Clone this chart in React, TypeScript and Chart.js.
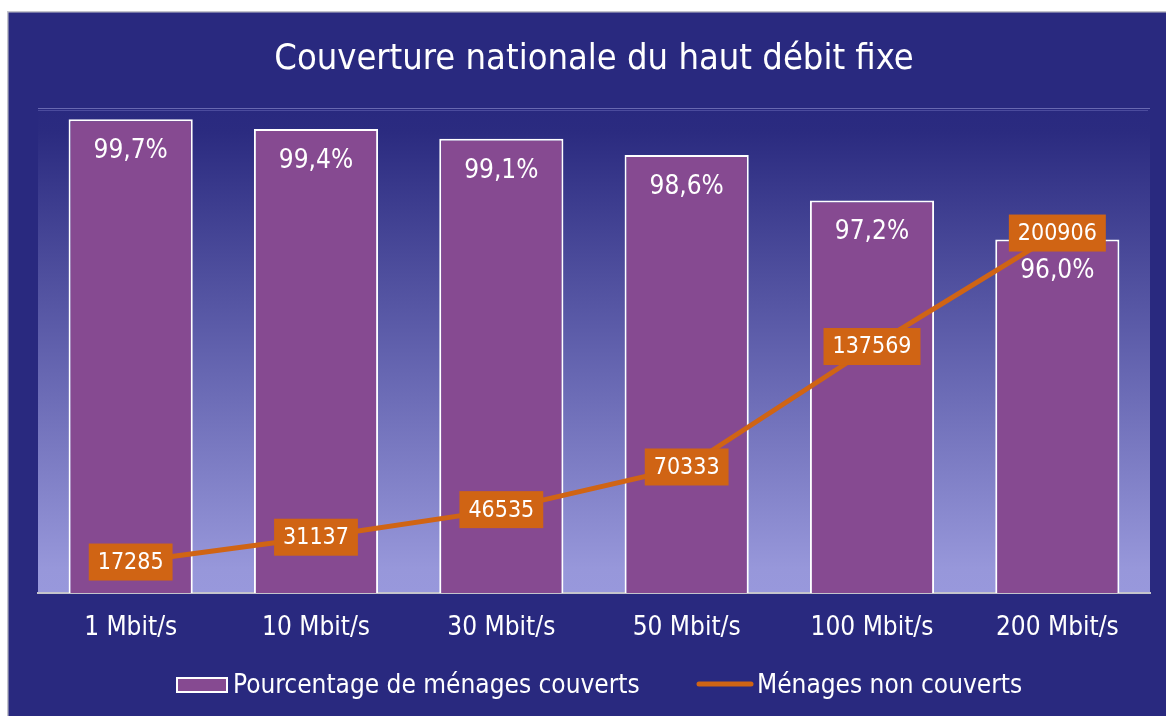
import React, { useEffect, useRef } from "react";
import { Chart, registerables } from "chart.js";

Chart.register(...registerables);

const categories = ["1 Mbit/s", "10 Mbit/s", "30 Mbit/s", "50 Mbit/s", "100 Mbit/s", "200 Mbit/s"];
const coveragePct = [99.7, 99.4, 99.1, 98.6, 97.2, 96.0];
const uncoveredHouseholds = [17285, 31137, 46535, 70333, 137569, 200906];

const TITLE = "Couverture nationale du haut débit fixe";
const BAR_LABEL = "Pourcentage de ménages couverts";
const LINE_LABEL = "Ménages non couverts";

const FONT = '"DejaVu Sans Condensed", "DejaVu Sans", sans-serif';
const DARK = "#29297f";
const PURPLE = "#864a91";
const ORANGE = "#d06414";
const BORDER_GRAY = "#c4c4cc";

const W = 1166;
const H = 716;

export default function App() {
  const ref = useRef<HTMLCanvasElement | null>(null);

  useEffect(() => {
    const canvas = ref.current;
    if (!canvas) return;

    const bgPlugin = {
      id: "bg",
      beforeDraw(chart: any) {
        const { ctx, chartArea } = chart;
        ctx.save();
        ctx.fillStyle = "#ffffff";
        ctx.fillRect(0, 0, W, H);
        ctx.fillStyle = DARK;
        ctx.fillRect(8, 11, W - 8, H - 11);
        ctx.fillStyle = BORDER_GRAY;
        ctx.fillRect(7, 11, W - 7, 1.5);
        ctx.fillRect(7, 11, 1.5, H - 11);
        const g = ctx.createLinearGradient(0, chartArea.top, 0, chartArea.bottom);
        g.addColorStop(0, "#29297f");
        g.addColorStop(0.05, "#2b2b80");
        g.addColorStop(0.95, "#9797da");
        g.addColorStop(1, "#9898dc");
        ctx.fillStyle = g;
        ctx.fillRect(chartArea.left, chartArea.top, chartArea.right - chartArea.left, chartArea.bottom - chartArea.top);
        ctx.fillStyle = "rgba(120,120,190,0.8)";
        ctx.fillRect(chartArea.left, chartArea.top, chartArea.right - chartArea.left, 1);
        ctx.fillStyle = "rgba(90,90,170,0.7)";
        ctx.fillRect(chartArea.left, chartArea.top + 2, chartArea.right - chartArea.left - 2, 1);
        // title
        ctx.fillStyle = "#ffffff";
        ctx.font = `36px ${FONT}`;
        ctx.textAlign = "center";
        ctx.textBaseline = "alphabetic";
        ctx.fillText(TITLE, (chartArea.left + chartArea.right) / 2, 69);
        // legend
        ctx.fillStyle = PURPLE;
        ctx.fillRect(176, 677, 52, 16);
        ctx.strokeStyle = "#ffffff";
        ctx.lineWidth = 2;
        ctx.strokeRect(177, 678, 50, 14);
        ctx.fillStyle = "#ffffff";
        ctx.font = `26px ${FONT}`;
        ctx.textAlign = "left";
        ctx.textBaseline = "middle";
        ctx.fillText(BAR_LABEL, 233, 686);
        ctx.strokeStyle = ORANGE;
        ctx.lineWidth = 5;
        ctx.lineCap = "round";
        ctx.beginPath();
        ctx.moveTo(699, 684);
        ctx.lineTo(751, 684);
        ctx.stroke();
        ctx.fillText(LINE_LABEL, 757, 686);
        ctx.restore();
      },
      afterDatasetDraw(chart: any, args: any) {
        if (args.index !== 1) return;
        const { ctx } = chart;
        const meta = chart.getDatasetMeta(1);
        ctx.save();
        ctx.fillStyle = "#ffffff";
        ctx.font = `26px ${FONT}`;
        ctx.textAlign = "center";
        ctx.textBaseline = "alphabetic";
        meta.data.forEach((el: any, i: number) => {
          const txt = coveragePct[i].toFixed(1).replace(".", ",") + "%";
          ctx.fillText(txt, el.x, el.y + 39);
        });
        ctx.restore();
      },
      afterDatasetsDraw(chart: any) {
        const { ctx } = chart;
        const meta = chart.getDatasetMeta(0);
        ctx.save();
        ctx.font = `23px ${FONT}`;
        ctx.textAlign = "center";
        ctx.textBaseline = "middle";
        meta.data.forEach((el: any, i: number) => {
          const txt = String(uncoveredHouseholds[i]);
          const tw = ctx.measureText(txt).width;
          const bw = tw + 18;
          const bh = 37;
          ctx.fillStyle = ORANGE;
          ctx.fillRect(el.x - bw / 2, el.y - bh / 2, bw, bh);
          ctx.fillStyle = "#ffffff";
          ctx.fillText(txt, el.x, el.y + 1);
        });
        ctx.restore();
      },
    };

    const chart = new Chart(canvas, {
      type: "bar",
      data: {
        labels: categories,
        datasets: [
          {
            type: "line",
            label: LINE_LABEL,
            data: uncoveredHouseholds,
            yAxisID: "y2",
            borderColor: ORANGE,
            backgroundColor: ORANGE,
            borderWidth: 5,
            pointRadius: 0,
            tension: 0,
            order: 0,
          },
          {
            type: "bar",
            label: BAR_LABEL,
            data: coveragePct,
            yAxisID: "y",
            backgroundColor: PURPLE,
            borderColor: "#ffffff",
            borderWidth: 2,
            categoryPercentage: 1,
            barPercentage: 0.67,
            order: 1,
          },
        ],
      } as any,
      options: {
        responsive: false,
        animation: false,
        devicePixelRatio: 1,
        layout: { padding: { left: 38, right: 16, top: 108, bottom: 73 } },
        plugins: {
          legend: { display: false },
          title: { display: false },
          tooltip: { enabled: false },
        },
        scales: {
          x: {
            grid: { display: false, drawTicks: false },
            border: { display: true, color: BORDER_GRAY, width: 2 },
            ticks: {
              color: "#ffffff",
              font: { family: FONT, size: 26 },
              padding: 20,
              maxRotation: 0,
            },
            afterFit: (scale: any) => {
              scale.height = 50;
            },
          },
          y: {
            display: false,
            min: 85.1,
            max: 100.05,
          },
          y2: {
            display: false,
            min: 0,
            max: 270700,
          },
        },
      } as any,
      plugins: [bgPlugin],
    });

    return () => chart.destroy();
  }, []);

  return (
    <div style={{ position: "fixed", left: 0, top: 0, width: W, height: H }}>
      <canvas ref={ref} width={W} height={H} style={{ width: W, height: H, display: "block" }} />
    </div>
  );
}
